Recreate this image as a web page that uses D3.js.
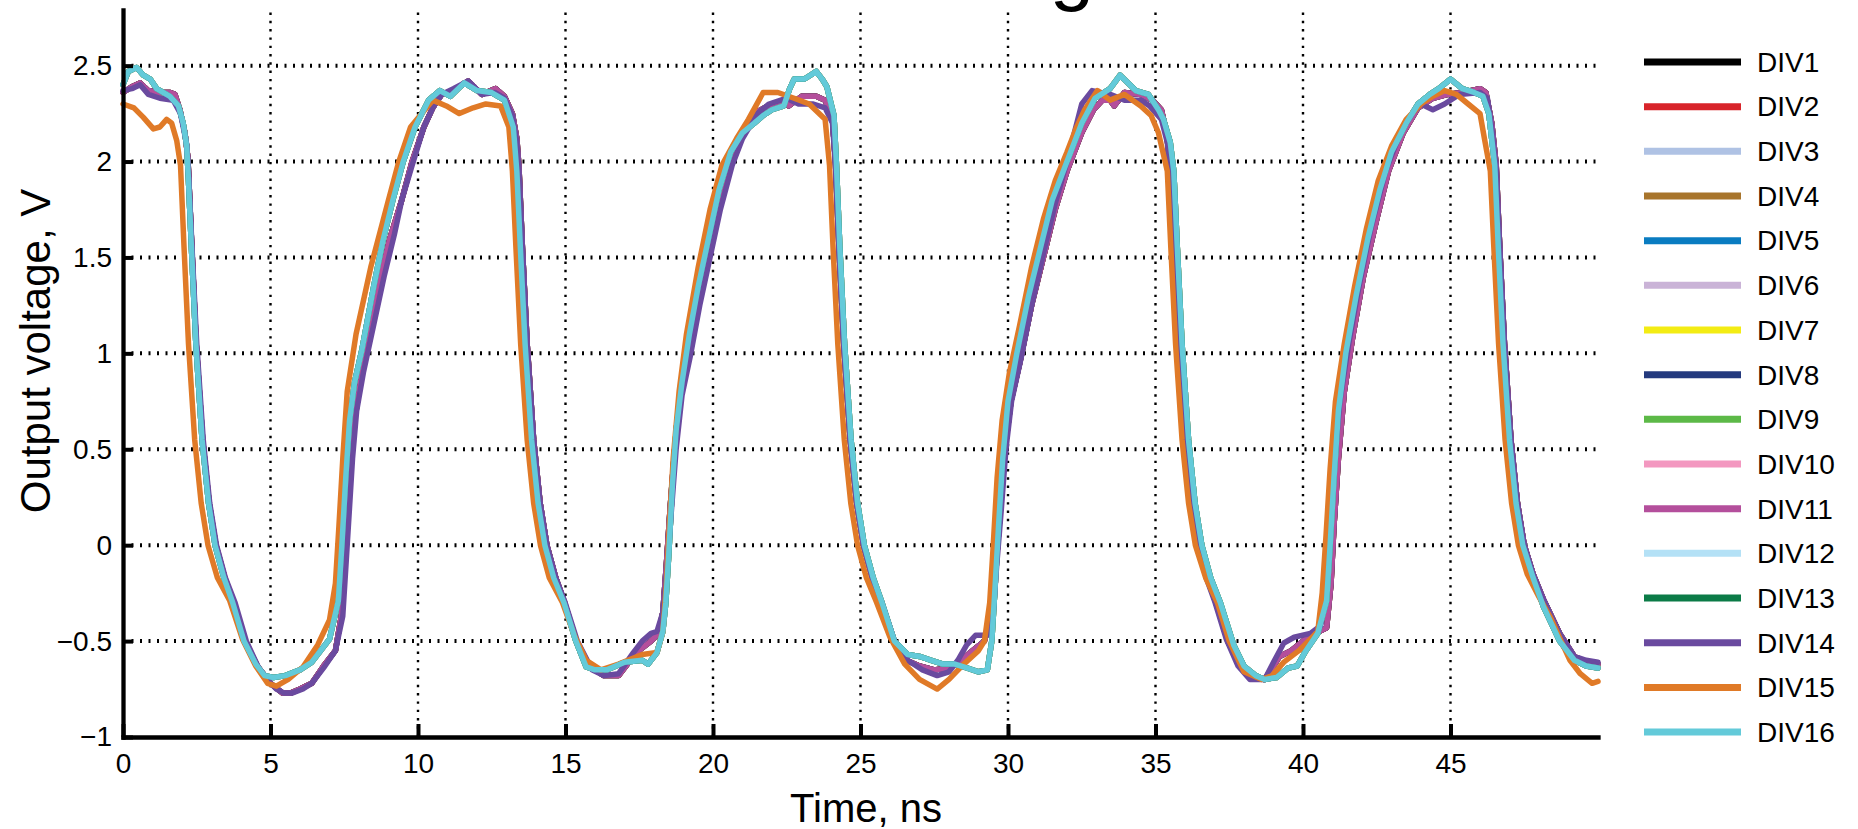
<!DOCTYPE html>
<html>
<head>
<meta charset="utf-8">
<script src="https://cdn.jsdelivr.net/npm/d3@7"></script>
<style>
  html, body { margin: 0; background: #fff; }
  svg { display: block; }
  text { font-family: "Liberation Sans", Arial, Helvetica, sans-serif; fill: #000; }
</style>
</head>
<body>
<svg id="chart" width="1858" height="829"></svg>
<script>
// Divider outputs, [time (ns), voltage (V)] samples
const traceDiv1 = [[0,2.36],[0.3,2.39],[0.58,2.41],[0.85,2.37],[1.2,2.36],[1.6,2.36],[1.76,2.35],[1.93,2.27],[2.1,2.15],[2.2,2.02],[2.32,1.6],[2.48,1.05],[2.7,0.55],[2.92,0.22],[3.15,0.0],[3.45,-0.17],[3.75,-0.3],[4.15,-0.5],[4.55,-0.63],[5.0,-0.72],[5.4,-0.77],[5.7,-0.77],[6.0,-0.75],[6.4,-0.72],[6.8,-0.63],[7.2,-0.55],[7.4,-0.37],[7.5,-0.15],[7.6,0.1],[7.72,0.4],[7.85,0.65],[8.05,0.85],[8.35,1.1],[8.7,1.38],[9.05,1.6],[9.45,1.8],[9.8,2.0],[10.2,2.18],[10.5,2.28],[10.8,2.35],[11.2,2.37],[11.7,2.42],[12.17,2.35],[12.63,2.38],[12.93,2.34],[13.2,2.25],[13.35,2.12],[13.42,1.98],[13.54,1.55],[13.7,1.05],[13.92,0.55],[14.14,0.22],[14.37,0.0],[14.67,-0.17],[14.97,-0.3],[15.37,-0.5],[15.8,-0.63],[16.3,-0.68],[16.8,-0.68],[17.1,-0.62],[17.4,-0.56],[17.9,-0.5],[18.15,-0.46],[18.3,-0.35],[18.42,-0.1],[18.55,0.2],[18.7,0.5],[18.9,0.8],[19.2,1.05],[19.5,1.3],[19.85,1.55],[20.2,1.8],[20.6,2.0],[21.0,2.15],[21.5,2.26],[22.0,2.3],[22.4,2.32],[22.57,2.29],[23.0,2.34],[23.5,2.34],[23.8,2.32],[24.05,2.22],[24.15,2.0],[24.27,1.55],[24.43,1.05],[24.65,0.55],[24.87,0.22],[25.1,0.0],[25.4,-0.17],[25.7,-0.3],[26.1,-0.5],[26.55,-0.6],[27.0,-0.63],[27.5,-0.65],[28.0,-0.64],[28.4,-0.6],[28.8,-0.55],[29.2,-0.5],[29.45,-0.35],[29.6,-0.1],[29.75,0.2],[29.9,0.5],[30.1,0.75],[30.4,0.95],[30.8,1.25],[31.2,1.5],[31.6,1.75],[32.0,1.95],[32.5,2.15],[32.9,2.27],[33.2,2.32],[33.46,2.32],[33.6,2.29],[33.95,2.36],[34.5,2.35],[34.9,2.32],[35.2,2.27],[35.38,2.15],[35.5,1.95],[35.62,1.55],[35.78,1.05],[36.0,0.55],[36.22,0.22],[36.45,0.0],[36.75,-0.17],[37.05,-0.3],[37.45,-0.5],[37.85,-0.63],[38.2,-0.69],[38.7,-0.7],[39.0,-0.63],[39.2,-0.58],[39.6,-0.55],[40.0,-0.5],[40.4,-0.46],[40.8,-0.43],[40.95,-0.2],[41.05,0.1],[41.2,0.45],[41.4,0.8],[41.7,1.1],[42.05,1.4],[42.5,1.7],[42.9,1.95],[43.4,2.15],[43.9,2.28],[44.4,2.33],[44.9,2.35],[45.4,2.36],[46.0,2.38],[46.2,2.36],[46.4,2.2],[46.55,1.98],[46.67,1.55],[46.83,1.05],[47.05,0.55],[47.27,0.22],[47.5,0.0],[47.8,-0.15],[48.17,-0.29],[48.7,-0.46],[49.2,-0.58],[49.6,-0.61],[50,-0.62]];

const traceDiv14 = [[0,2.37],[0.3,2.38],[0.58,2.40],[0.86,2.35],[1.25,2.33],[1.7,2.32],[1.95,2.25],[2.16,2.09],[2.22,1.95],[2.34,1.55],[2.5,1.05],[2.72,0.55],[2.94,0.22],[3.17,0.0],[3.47,-0.17],[3.8,-0.3],[4.18,-0.5],[4.6,-0.64],[4.95,-0.71],[5.2,-0.75],[5.45,-0.77],[5.75,-0.77],[6.1,-0.75],[6.4,-0.72],[6.8,-0.64],[7.2,-0.55],[7.45,-0.37],[7.56,-0.1],[7.66,0.15],[7.78,0.45],[7.92,0.7],[8.15,0.9],[8.5,1.15],[8.85,1.4],[9.2,1.62],[9.45,1.8],[9.8,1.98],[10.2,2.18],[10.5,2.28],[10.8,2.35],[11.2,2.38],[11.7,2.42],[12.17,2.35],[12.6,2.36],[12.93,2.33],[13.2,2.24],[13.35,2.1],[13.42,1.96],[13.54,1.55],[13.7,1.05],[13.92,0.55],[14.14,0.22],[14.37,0.0],[14.67,-0.17],[14.99,-0.3],[15.4,-0.5],[15.9,-0.65],[16.3,-0.68],[16.8,-0.67],[17.3,-0.56],[17.6,-0.5],[17.9,-0.46],[18.1,-0.45],[18.3,-0.35],[18.45,-0.1],[18.6,0.2],[18.75,0.5],[18.95,0.78],[19.25,1.0],[19.55,1.25],[19.9,1.5],[20.25,1.75],[20.65,1.98],[21.0,2.12],[21.5,2.25],[21.9,2.3],[22.5,2.33],[22.9,2.3],[23.4,2.3],[23.8,2.28],[24.05,2.2],[24.15,1.98],[24.27,1.55],[24.43,1.05],[24.65,0.55],[24.87,0.22],[25.1,0.0],[25.4,-0.17],[25.72,-0.3],[26.15,-0.5],[26.6,-0.6],[27.1,-0.65],[27.6,-0.68],[28.0,-0.66],[28.3,-0.6],[28.6,-0.52],[28.9,-0.47],[29.3,-0.47],[29.5,-0.35],[29.62,-0.1],[29.78,0.2],[29.93,0.5],[30.12,0.75],[30.45,0.98],[30.8,1.25],[31.2,1.52],[31.6,1.78],[32.0,2.0],[32.5,2.3],[32.85,2.37],[33.46,2.35],[33.95,2.32],[34.5,2.32],[34.8,2.29],[35.2,2.22],[35.4,2.1],[35.5,1.95],[35.62,1.55],[35.78,1.05],[36.0,0.55],[36.22,0.22],[36.45,0.0],[36.72,-0.17],[37.0,-0.29],[37.4,-0.49],[37.8,-0.63],[38.2,-0.7],[38.7,-0.7],[39.0,-0.61],[39.35,-0.51],[39.7,-0.48],[40.25,-0.46],[40.6,-0.42],[40.78,-0.2],[40.9,0.1],[41.05,0.4],[41.25,0.75],[41.55,1.05],[41.9,1.35],[42.3,1.65],[42.8,1.95],[43.3,2.15],[43.7,2.25],[44.0,2.3],[44.4,2.27],[44.8,2.3],[45.3,2.35],[46.0,2.36],[46.25,2.33],[46.42,2.15],[46.55,1.96],[46.67,1.55],[46.83,1.05],[47.05,0.55],[47.27,0.22],[47.5,0.0],[47.8,-0.15],[48.17,-0.29],[48.7,-0.46],[49.2,-0.58],[49.6,-0.6],[50,-0.61]];

const traceDiv15 = [[0,2.3],[0.37,2.28],[0.69,2.23],[1.03,2.17],[1.25,2.18],[1.48,2.22],[1.65,2.2],[1.82,2.11],[1.95,1.98],[2.07,1.55],[2.22,1.05],[2.43,0.55],[2.65,0.22],[2.88,0.0],[3.2,-0.17],[3.62,-0.29],[4.05,-0.49],[4.5,-0.63],[4.9,-0.72],[5.2,-0.735],[5.6,-0.7],[6.1,-0.635],[6.6,-0.52],[7.0,-0.39],[7.2,-0.2],[7.32,0.1],[7.45,0.45],[7.6,0.8],[7.9,1.1],[8.4,1.45],[9.0,1.8],[9.35,2.0],[9.75,2.18],[10.5,2.32],[10.96,2.29],[11.4,2.25],[11.87,2.28],[12.3,2.3],[12.8,2.29],[13.08,2.18],[13.2,1.95],[13.32,1.55],[13.48,1.05],[13.7,0.55],[13.92,0.22],[14.15,0.0],[14.45,-0.17],[14.9,-0.3],[15.3,-0.47],[15.7,-0.6],[16.2,-0.65],[16.8,-0.62],[17.6,-0.57],[18.1,-0.56],[18.3,-0.45],[18.42,-0.2],[18.52,0.1],[18.65,0.45],[18.85,0.8],[19.1,1.1],[19.5,1.45],[19.9,1.75],[20.3,1.98],[20.8,2.12],[21.2,2.22],[21.7,2.36],[22.2,2.36],[22.75,2.33],[23.26,2.3],[23.8,2.22],[23.95,1.98],[24.07,1.55],[24.23,1.05],[24.45,0.55],[24.67,0.22],[24.9,0.0],[25.2,-0.17],[25.55,-0.3],[26.0,-0.48],[26.5,-0.62],[27.0,-0.7],[27.6,-0.75],[28.0,-0.7],[28.5,-0.62],[29.0,-0.55],[29.2,-0.5],[29.38,-0.3],[29.5,0.0],[29.63,0.35],[29.8,0.65],[30.05,0.9],[30.4,1.15],[30.8,1.45],[31.2,1.7],[31.6,1.9],[32.0,2.05],[32.3,2.17],[32.6,2.27],[33.03,2.37],[33.46,2.32],[33.95,2.35],[34.5,2.29],[34.85,2.24],[35.1,2.15],[35.4,1.95],[35.52,1.55],[35.68,1.05],[35.9,0.55],[36.12,0.22],[36.35,0.0],[36.7,-0.17],[37.1,-0.3],[37.5,-0.5],[38.0,-0.66],[38.6,-0.7],[38.95,-0.68],[39.35,-0.61],[39.86,-0.55],[40.25,-0.49],[40.5,-0.45],[40.65,-0.25],[40.78,0.05],[40.92,0.4],[41.1,0.75],[41.4,1.05],[41.75,1.35],[42.15,1.65],[42.55,1.9],[43.0,2.08],[43.5,2.22],[44.0,2.3],[44.4,2.34],[44.8,2.37],[45.2,2.35],[45.6,2.3],[46.0,2.25],[46.15,2.12],[46.35,1.95],[46.47,1.55],[46.63,1.05],[46.85,0.55],[47.07,0.22],[47.3,0.0],[47.6,-0.15],[48.0,-0.27],[48.4,-0.38],[48.75,-0.5],[49.05,-0.6],[49.4,-0.67],[49.8,-0.72],[50,-0.71]];

const traceDiv16 = [[0,2.40],[0.18,2.47],[0.46,2.49],[0.69,2.45],[0.92,2.43],[1.14,2.38],[1.59,2.34],[1.88,2.29],[2.04,2.2],[2.16,2.08],[2.22,1.9],[2.32,1.55],[2.47,1.05],[2.68,0.55],[2.9,0.22],[3.12,0.0],[3.42,-0.17],[3.72,-0.3],[4.1,-0.5],[4.5,-0.62],[4.8,-0.68],[5.1,-0.69],[5.5,-0.68],[6.0,-0.65],[6.4,-0.61],[7.0,-0.49],[7.3,-0.29],[7.42,0.0],[7.55,0.35],[7.68,0.65],[7.85,0.85],[8.1,1.02],[8.5,1.35],[8.8,1.58],[9.15,1.8],[9.5,2.0],[9.9,2.18],[10.36,2.32],[10.74,2.37],[11.1,2.34],[11.57,2.41],[12.0,2.37],[12.48,2.36],[12.93,2.32],[13.23,2.18],[13.35,1.95],[13.47,1.55],[13.63,1.05],[13.85,0.55],[14.07,0.22],[14.3,0.0],[14.6,-0.17],[14.95,-0.3],[15.35,-0.5],[15.7,-0.635],[16.0,-0.65],[16.4,-0.65],[17.0,-0.61],[17.6,-0.6],[17.8,-0.62],[18.1,-0.56],[18.3,-0.45],[18.4,-0.3],[18.5,-0.05],[18.62,0.3],[18.75,0.6],[18.95,0.85],[19.2,1.1],[19.5,1.35],[19.85,1.6],[20.2,1.85],[20.6,2.05],[21.0,2.15],[21.4,2.2],[21.7,2.24],[22.0,2.27],[22.4,2.29],[22.6,2.38],[22.75,2.43],[23.1,2.43],[23.3,2.45],[23.5,2.47],[23.7,2.43],[23.86,2.39],[24.1,2.24],[24.18,2.0],[24.3,1.55],[24.46,1.05],[24.68,0.55],[24.9,0.22],[25.13,0.0],[25.43,-0.17],[25.73,-0.3],[26.15,-0.5],[26.6,-0.57],[27.0,-0.58],[27.4,-0.6],[27.8,-0.62],[28.2,-0.62],[28.6,-0.64],[29.0,-0.66],[29.3,-0.65],[29.45,-0.5],[29.55,-0.25],[29.68,0.1],[29.82,0.45],[30.0,0.75],[30.3,1.0],[30.7,1.3],[31.1,1.55],[31.5,1.8],[32.0,2.0],[32.5,2.2],[32.95,2.33],[33.46,2.38],[33.8,2.45],[34.0,2.42],[34.33,2.37],[34.76,2.35],[35.1,2.27],[35.27,2.22],[35.5,2.1],[35.62,1.95],[35.74,1.55],[35.9,1.05],[36.12,0.55],[36.34,0.22],[36.57,0.0],[36.87,-0.17],[37.2,-0.3],[37.65,-0.52],[38.0,-0.63],[38.4,-0.68],[38.7,-0.7],[39.1,-0.69],[39.5,-0.64],[39.8,-0.63],[40.1,-0.55],[40.5,-0.46],[40.8,-0.29],[40.92,0.0],[41.05,0.35],[41.2,0.7],[41.45,1.0],[41.8,1.3],[42.2,1.6],[42.6,1.85],[43.0,2.05],[43.5,2.2],[43.9,2.3],[44.3,2.35],[44.6,2.38],[45.0,2.43],[45.4,2.38],[45.8,2.36],[46.1,2.34],[46.3,2.25],[46.5,1.98],[46.62,1.55],[46.78,1.05],[47.0,0.55],[47.22,0.22],[47.45,0.0],[47.8,-0.17],[48.15,-0.32],[48.7,-0.5],[49.2,-0.6],[49.6,-0.63],[50,-0.64]];

// Legend entries, colours, and which recorded trace each output follows
const seriesNames  = ["DIV1","DIV2","DIV3","DIV4","DIV5","DIV6","DIV7","DIV8","DIV9","DIV10","DIV11","DIV12","DIV13","DIV14","DIV15","DIV16"];
const seriesColors = ["#000000","#d8242a","#afc2e4","#a8752c","#0a7cc1","#cab3d7","#f3ec14","#243a7e","#5cb947","#f398c0","#b44f9c","#b4e1f6","#0b7b47","#6a4a9f","#e07a27","#63cad9"];
const seriesTrace  = [traceDiv1, traceDiv1, traceDiv16, traceDiv1, traceDiv16, traceDiv16, traceDiv16, traceDiv1, traceDiv16, traceDiv16, traceDiv1, traceDiv16, traceDiv16, traceDiv14, traceDiv15, traceDiv16];

// Axis ticks
const xTicks = [0, 5, 10, 15, 20, 25, 30, 35, 40, 45];
const yTicks = [-1, -0.5, 0, 0.5, 1, 1.5, 2, 2.5];
const xGrid  = [5, 10, 15, 20, 25, 30, 35, 40, 45];
const yGrid  = [-0.5, 0, 0.5, 1, 1.5, 2, 2.5];

const svg = d3.select("#chart");

const x = d3.scaleLinear().domain([0, 50]).range([123, 1598]);
const y = d3.scaleLinear().domain([-1, 2.79]).range([737, 10]);

// Title (runs above the top edge)
svg.append("text")
  .attr("x", 852).attr("y", -5)
  .attr("text-anchor", "middle")
  .attr("font-size", 80)
  .text("Divider timing");

// Dotted grid
const grid = svg.append("g");
grid.selectAll("line.h").data(yGrid).join("line")
  .attr("class", "h")
  .attr("x1", x(0)).attr("x2", x(50))
  .attr("y1", d => y(d)).attr("y2", d => y(d))
  .attr("stroke", "#000").attr("stroke-width", 4)
  .attr("stroke-dasharray", "2 6.5");
grid.selectAll("line.v").data(xGrid).join("line")
  .attr("class", "v")
  .attr("x1", d => x(d)).attr("x2", d => x(d))
  .attr("y1", y(-1)).attr("y2", y(2.79))
  .attr("stroke", "#000").attr("stroke-width", 2.4)
  .attr("stroke-dasharray", "2.4 5.9");

// Waveforms, DIV1 underneath and DIV16 on top
const line = d3.line().x(d => x(d[0])).y(d => y(d[1]));
svg.append("g").selectAll("path").data(seriesNames).join("path")
  .attr("d", (d, i) => line(seriesTrace[i]))
  .attr("fill", "none")
  .attr("stroke", (d, i) => seriesColors[i])
  .attr("stroke-width", 5.5)
  .attr("stroke-linejoin", "round")
  .attr("stroke-linecap", "round");

// Axes
const fmt = d => (d < 0 ? "\u2212" : "") + Math.abs(d);
const xAxis = svg.append("g")
  .attr("transform", `translate(0,${y(-1)})`)
  .call(d3.axisBottom(x).tickValues(xTicks).tickFormat(fmt).tickSizeInner(-13).tickSizeOuter(0).tickPadding(16));
const yAxis = svg.append("g")
  .attr("transform", `translate(${x(0)},0)`)
  .call(d3.axisLeft(y).tickValues(yTicks).tickFormat(fmt).tickSizeInner(-10).tickSizeOuter(0).tickPadding(11));
[xAxis, yAxis].forEach(a => {
  a.select(".domain").attr("stroke", "#000").attr("stroke-width", 4.3).attr("stroke-linecap", "square");
  a.selectAll(".tick line").attr("stroke", "#000").attr("stroke-width", 4);
  a.selectAll(".tick text").attr("font-size", 28).attr("fill", "#000")
    .style("font-family", '"Liberation Sans", Arial, Helvetica, sans-serif');
});

// Axis titles
svg.append("text")
  .attr("x", 866).attr("y", 822)
  .attr("text-anchor", "middle")
  .attr("font-size", 40)
  .text("Time, ns");
svg.append("text")
  .attr("transform", "translate(50,351) rotate(-90)")
  .attr("text-anchor", "middle")
  .attr("font-size", 42)
  .text("Output voltage, V");

// Legend
const legend = svg.append("g");
const rows = legend.selectAll("g").data(seriesNames).join("g")
  .attr("transform", (d, i) => `translate(0,${62 + i * 44.67})`);
rows.append("line")
  .attr("x1", 1644).attr("x2", 1741)
  .attr("stroke", (d, i) => seriesColors[i])
  .attr("stroke-width", 7);
rows.append("text")
  .attr("x", 1757).attr("dy", "0.35em")
  .attr("font-size", 28)
  .text(d => d);
</script>
</body>
</html>
